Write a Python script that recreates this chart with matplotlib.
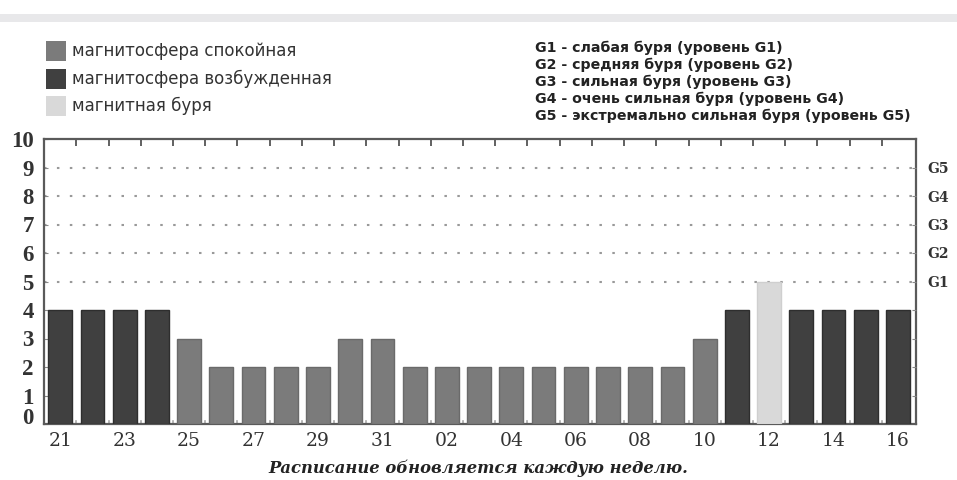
import matplotlib
matplotlib.use("Agg")
import matplotlib.pyplot as plt
from matplotlib.patches import Rectangle
import matplotlib.transforms as mtransforms

days = ["21", "22", "23", "24", "25", "26", "27", "28", "29", "30", "31",
        "01", "02", "03", "04", "05", "06", "07", "08", "09", "10",
        "11", "12", "13", "14", "15", "16"]
values = [4, 4, 4, 4, 3, 2, 2, 2, 2, 3, 3,
          2, 2, 2, 2, 2, 2, 2, 2, 2, 3,
          4, 5, 4, 4, 4, 4]
status = ["e", "e", "e", "e", "c", "c", "c", "c", "c", "c", "c",
          "c", "c", "c", "c", "c", "c", "c", "c", "c", "c",
          "e", "s", "e", "e", "e", "e"]
legend_labels = ["магнитосфера спокойная", "магнитосфера возбужденная", "магнитная буря"]
g_levels = [5, 6, 7, 8, 9]
g_labels = ["G1", "G2", "G3", "G4", "G5"]
g_desc = ["G1 - слабая буря (уровень G1)",
          "G2 - средняя буря (уровень G2)",
          "G3 - сильная буря (уровень G3)",
          "G4 - очень сильная буря (уровень G4)",
          "G5 - экстремально сильная буря (уровень G5)"]
caption = "Расписание обновляется каждую неделю."

colors = {"c": "#7b7b7b", "e": "#404040", "s": "#d9d9d9"}
edges = {"c": "#6a6a6a", "e": "#2e2e2e", "s": "#cfcfcf"}

fig = plt.figure(figsize=(9.57, 4.8), dpi=100)
fig.patch.set_facecolor("white")

# top grey stripe
fig.add_artist(Rectangle((0, 1 - 22 / 480), 1, 8 / 480, transform=fig.transFigure,
                         facecolor="#e8e8ea", edgecolor="none"))

ax = fig.add_axes([43.5 / 957, 1 - 424 / 480, (916 - 43.5) / 957, (424 - 139) / 480])
x = list(range(len(days)))
ax.bar(x, values, width=0.74, color=[colors[s] for s in status],
       edgecolor=[edges[s] for s in status], linewidth=1.0, zorder=3)
ax.set_xlim(-0.52, len(days) - 0.44)
ax.set_ylim(0, 10)

for lv in g_levels:
    ax.axhline(lv, color="#999999", linestyle=(0, (1.2, 5)), linewidth=1.5, zorder=1)

for sp in ax.spines.values():
    sp.set_color("#5a5a5a")
    sp.set_linewidth(1.6)

ax.set_xticks(x[::2])
ax.set_xticklabels(days[::2], family="DejaVu Serif", fontsize=13.5, color="#333333")
ax.tick_params(axis="x", length=0, pad=6)
ax.set_yticks(range(0, 11))
ax.set_yticklabels([str(i) for i in range(0, 11)], family="Liberation Serif",
                   fontweight="bold", fontsize=16.5, color="#333333")
ax.tick_params(axis="y", length=3, direction="in", color="#888888", pad=7)
lbl0 = ax.get_yticklabels()[0]
lbl0.set_transform(lbl0.get_transform() + mtransforms.ScaledTranslation(0, 5.5 / 72, fig.dpi_scale_trans))

# boundary ticks on top and bottom
sec = ax.secondary_xaxis("top")
sec.set_xticks([i + 0.5 for i in x[:-1]])
sec.set_xticklabels([])
sec.tick_params(direction="in", length=5, color="#555555", width=1.3)
sec.spines["top"].set_visible(False)
for i in x[:-1]:
    ax.plot([i + 0.5, i + 0.5], [0, 0.1], color="#aaaaaa", lw=1.2, zorder=2)

# right ticks and G labels
ay = ax.twinx()
ay.set_ylim(0, 10)
ay.set_yticks([1, 2, 3, 4] + g_levels)
ay.set_yticklabels(["", "", "", ""] + g_labels, family="DejaVu Serif", fontweight="bold",
                   fontsize=10, color="#333333")
ay.tick_params(axis="y", direction="in", length=3, color="#888888", pad=8)
for sp in ay.spines.values():
    sp.set_visible(False)

# legend (left)
leg_colors = [colors["c"], colors["e"], colors["s"]]
leg_y = [51, 79, 106]
for c, lab, yy in zip(leg_colors, legend_labels, leg_y):
    fig.add_artist(Rectangle((46 / 957, 1 - (yy + 10) / 480), 20 / 957, 20 / 480,
                             transform=fig.transFigure, facecolor=c, edgecolor="none"))
    fig.text(72 / 957, 1 - yy / 480, lab, fontsize=12, color="#333333",
             family="DejaVu Sans", va="center", ha="left")

# legend (right)
for i, t in enumerate(g_desc):
    fig.text(535 / 957, 1 - (48 + i * 17) / 480, t, fontsize=10.2, fontweight="bold",
             color="#222222", family="DejaVu Sans", va="center", ha="left")

fig.text(478 / 957, 1 - 468 / 480, caption, family="DejaVu Serif", fontweight="bold",
         style="italic", fontsize=11.8, color="#222222", ha="center", va="center")

fig.savefig("out.png", dpi=100)
